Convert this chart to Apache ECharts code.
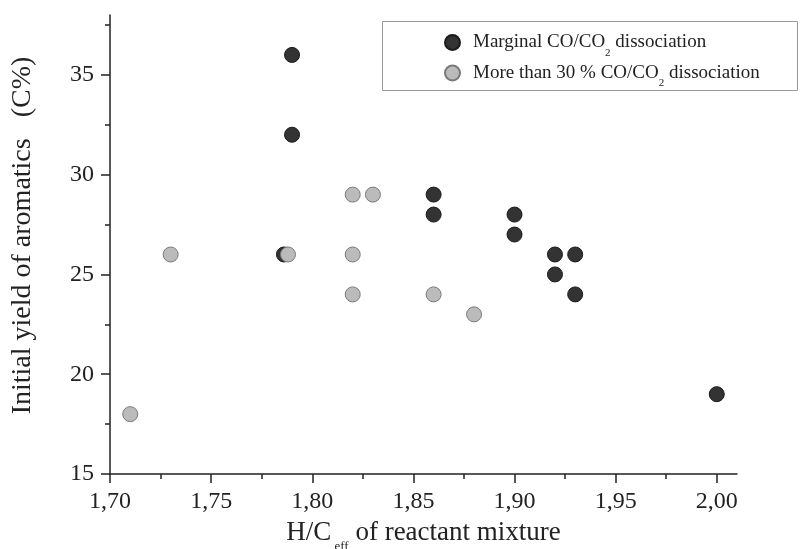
<!DOCTYPE html>
<html>
<head>
<meta charset="utf-8">
<script src="https://cdn.jsdelivr.net/npm/echarts@6/dist/echarts.min.js"></script>
<style>
  html, body { margin: 0; padding: 0; background: #fff; }
  #chart { width: 805px; height: 549px; }
</style>
</head>
<body>
<div id="chart"></div>
<script>
// ---- data ----
const marginalX = [1.79, 1.79, 1.786, 1.86, 1.86, 1.90, 1.90, 1.92, 1.93, 1.92, 1.93, 2.00];
const marginalY = [36, 32, 26, 29, 28, 28, 27, 26, 26, 25, 24, 19];
const over30X = [1.71, 1.73, 1.788, 1.82, 1.83, 1.82, 1.82, 1.86, 1.88];
const over30Y = [18, 26, 26, 29, 29, 26, 24, 24, 23];
const xMajorTicks = [1.70, 1.75, 1.80, 1.85, 1.90, 1.95, 2.00];
const xMinorTicks = [1.725, 1.775, 1.825, 1.875, 1.925, 1.975];
const yMajorTicks = [15, 20, 25, 30, 35];
const yMinorTicks = [17.5, 22.5, 27.5, 32.5, 37.5];
const seriesNames = ['Marginal CO/CO2 dissociation', 'More than 30 % CO/CO2 dissociation'];

const FONT = "'Liberation Serif', 'Times New Roman', serif";
const INK = '#222';

function pairs(xs, ys) { return xs.map((x, i) => [x, ys[i]]); }

const chart = echarts.init(document.getElementById('chart'), null, { renderer: 'canvas' });

const xBase = { type: 'value', min: 1.70, max: 2.01, position: 'bottom', splitLine: { show: false } };
const yBase = { type: 'value', min: 15, max: 38, position: 'left', splitLine: { show: false } };

chart.setOption({
  animation: false,
  backgroundColor: '#fff',
  grid: { left: 110, right: 68, top: 15, bottom: 75, containLabel: false, outerBoundsMode: 'none' },
  graphic: [{
    type: 'rect', left: 382, top: 21, z: 0,
    shape: { width: 415, height: 69 },
    style: { fill: '#fff', stroke: '#999', lineWidth: 1 }
  }],
  legend: {
    orient: 'vertical', left: 444, top: 33, padding: 0,
    itemWidth: 15, itemHeight: 15, itemGap: 5, z: 5,
    data: seriesNames,
    formatter: function (name) {
      const parts = name.split('CO2');
      return '{m|' + parts[0] + 'CO}{sub|2}{m|' + parts[1] + '}';
    },
    textStyle: {
      fontFamily: FONT, fontSize: 19, color: INK, padding: [0, 0, 0, 8],
      rich: {
        m: { fontFamily: FONT, fontSize: 19, color: INK, lineHeight: 32 },
        sub: { fontFamily: FONT, fontSize: 11, color: INK, lineHeight: 11, verticalAlign: 'bottom' }
      }
    }
  },
  xAxis: [
    Object.assign({}, xBase, {
      name: '{m|H/C}{sub| eff}{m| of reactant mixture}',
      nameLocation: 'middle', nameGap: 38,
      nameTextStyle: {
        fontFamily: FONT, fontSize: 27, color: INK,
        rich: {
          m: { fontFamily: FONT, fontSize: 27, color: INK, lineHeight: 41 },
          sub: { fontFamily: FONT, fontSize: 13, color: INK, lineHeight: 13, verticalAlign: 'bottom' }
        }
      },
      axisLine: { show: true, lineStyle: { color: INK, width: 1.5 } },
      axisTick: { show: true, length: 9, customValues: xMajorTicks, lineStyle: { color: INK, width: 1.5 } },
      axisLabel: {
        show: true, margin: 16, customValues: xMajorTicks,
        fontFamily: FONT, fontSize: 24, color: INK,
        formatter: v => v.toFixed(2).replace('.', ',')
      }
    }),
    Object.assign({}, xBase, {
      axisLine: { show: false },
      axisTick: { show: true, length: 5, customValues: xMinorTicks, lineStyle: { color: INK, width: 1.5 } },
      axisLabel: { show: false }
    })
  ],
  yAxis: [
    Object.assign({}, yBase, {
      name: 'Initial yield of aromatics   (C%)',
      nameLocation: 'middle', nameGap: 73, nameRotate: 90,
      nameTextStyle: { fontFamily: FONT, fontSize: 28, color: INK, padding: [0, 0, 0, 18] },
      axisLine: { show: true, lineStyle: { color: INK, width: 1.5 } },
      axisTick: { show: true, length: 9, customValues: yMajorTicks, lineStyle: { color: INK, width: 1.5 } },
      axisLabel: {
        show: true, margin: 16, customValues: yMajorTicks,
        fontFamily: FONT, fontSize: 24, color: INK
      }
    }),
    Object.assign({}, yBase, {
      axisLine: { show: false },
      axisTick: { show: true, length: 5, customValues: yMinorTicks, lineStyle: { color: INK, width: 1.5 } },
      axisLabel: { show: false }
    })
  ],
  series: [
    {
      name: seriesNames[0], type: 'scatter', xAxisIndex: 0, yAxisIndex: 0,
      symbol: 'circle', symbolSize: 15,
      itemStyle: { color: '#333', borderColor: '#1a1a1a', borderWidth: 1, opacity: 1 },
      data: pairs(marginalX, marginalY), z: 3
    },
    {
      name: seriesNames[1], type: 'scatter', xAxisIndex: 0, yAxisIndex: 0,
      symbol: 'circle', symbolSize: 15,
      itemStyle: { color: '#bbb', borderColor: '#7a7a7a', borderWidth: 1, opacity: 1 },
      data: pairs(over30X, over30Y), z: 4
    }
  ]
});
</script>
</body>
</html>
